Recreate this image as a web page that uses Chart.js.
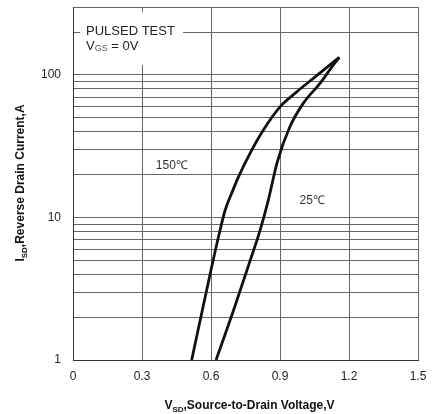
<!DOCTYPE html>
<html>
<head>
<meta charset="utf-8">
<script src="https://cdn.jsdelivr.net/npm/chart.js@4/dist/chart.umd.min.js"></script>
<style>
  html, body { margin: 0; padding: 0; background: #fff; }
  #wrap { width: 433px; height: 414px; }
</style>
</head>
<body>
<div id="wrap"><canvas id="diodeChart" width="433" height="414"></canvas></div>
<script>
// 数据
const voltage150 = [0.516, 0.596, 0.639, 0.661, 0.695, 0.719, 0.777, 0.827, 0.900, 0.973, 1.045, 1.117, 1.158];
const current150 = [1.0, 4.0, 8.1, 11.2, 15.5, 19.2, 29.7, 41, 59.8, 76.2, 94.8, 117.6, 133];
const voltage25 = [0.622, 0.697, 0.770, 0.813, 0.849, 0.888, 0.943, 1.001, 1.074, 1.132, 1.158];
const current25 = [1.0, 2.21, 4.97, 8.1, 13.2, 24.5, 43.3, 63.2, 87.4, 117.6, 133];
const xTicks = [0, 0.3, 0.6, 0.9, 1.2, 1.5];
const yTicks = [1, 2, 3, 4, 5, 6, 7, 8, 9, 10, 20, 30, 40, 50, 60, 70, 80, 90, 100, 200, 300];
const yLabels = [1, 10, 100];

const FONT = '"Liberation Sans", Arial, sans-serif';

function toPoints(xs, ys) {
    return xs.map((x, i) => ({x: x, y: ys[i]}));
}

// 标注与坐标轴标题（含下标）
const annotatePlugin = {
    id: 'annotate',
    beforeDatasetsDraw(chart) {
        const ctx = chart.ctx;
        const area = chart.chartArea;
        const xs = chart.scales.x;
        const ys = chart.scales.y;
        ctx.save();
        // PULSED TEST 标签背景
        ctx.fillStyle = '#fff';
        ctx.fillRect(area.left + 7, area.top + 5, 103, 53);
        ctx.fillStyle = '#222';
        ctx.textBaseline = 'middle';
        ctx.textAlign = 'left';
        ctx.font = '13px ' + FONT;
        ctx.fillText('PULSED TEST', area.left + 13, area.top + 24);
        ctx.fillText('V', area.left + 13, area.top + 39);
        let w = ctx.measureText('V').width;
        ctx.font = '9px ' + FONT;
        ctx.fillStyle = '#555';
        ctx.fillText('GS', area.left + 13 + w, area.top + 42);
        let w2 = ctx.measureText('GS').width;
        ctx.font = '13px ' + FONT;
        ctx.fillStyle = '#222';
        ctx.fillText(' = 0V', area.left + 13 + w + w2, area.top + 39);

        // 温度标签
        ctx.font = '12px ' + FONT;
        ctx.fillStyle = '#333';
        ctx.fillText('150\u2103', xs.getPixelForValue(0.36), ys.getPixelForValue(23.2));
        ctx.fillText('25\u2103', xs.getPixelForValue(0.985), ys.getPixelForValue(13.2));
        ctx.restore();
    },
    afterDraw(chart) {
        const ctx = chart.ctx;
        const area = chart.chartArea;
        ctx.save();
        ctx.fillStyle = '#111';
        ctx.textBaseline = 'alphabetic';

        // X 轴标题
        const big = 'bold 12px ' + FONT;
        const small = 'bold 8px ' + FONT;
        const xParts = [['V', big, 0], ['SD', small, 3], [',Source-to-Drain Voltage,V', big, 0]];
        drawParts(ctx, xParts, (area.left + area.right) / 2 + 4, 409);

        // Y 轴标题（旋转）
        ctx.translate(24, 183);
        ctx.rotate(-Math.PI / 2);
        const yParts = [['I', big, 0], ['SD', small, 3], [',Reverse Drain Current,A', big, 0]];
        drawParts(ctx, yParts, 0, 0);
        ctx.restore();
    }
};

function drawParts(ctx, parts, cx, baseY) {
    let total = 0;
    parts.forEach(p => { ctx.font = p[1]; total += ctx.measureText(p[0]).width; });
    let x = cx - total / 2;
    ctx.textAlign = 'left';
    parts.forEach(p => {
        ctx.font = p[1];
        ctx.fillText(p[0], x, baseY + p[2]);
        x += ctx.measureText(p[0]).width;
    });
}

const ctx = document.getElementById('diodeChart').getContext('2d');
new Chart(ctx, {
    type: 'line',
    data: {
        datasets: [
            {
                label: '150℃',
                data: toPoints(voltage150, current150),
                borderColor: '#111',
                borderWidth: 2.8,
                pointRadius: 0,
                cubicInterpolationMode: 'monotone',
                fill: false
            },
            {
                label: '25℃',
                data: toPoints(voltage25, current25),
                borderColor: '#111',
                borderWidth: 2.8,
                pointRadius: 0,
                cubicInterpolationMode: 'monotone',
                fill: false
            }
        ]
    },
    options: {
        responsive: false,
        animation: false,
        events: [],
        layout: {
            padding: {left: 0, right: 15, top: 7, bottom: 0}
        },
        plugins: {
            legend: { display: false },
            tooltip: { enabled: false }
        },
        scales: {
            x: {
                type: 'linear',
                min: 0,
                max: 1.5,
                afterBuildTicks(scale) {
                    scale.ticks = xTicks.map(v => ({value: v}));
                },
                afterFit(scale) {
                    scale.height = 54;
                    scale.paddingLeft = 0;
                    scale.paddingRight = 0;
                },
                grid: {
                    color: '#666',
                    lineWidth: 1,
                    drawTicks: false
                },
                border: { color: '#333', width: 1 },
                ticks: {
                    padding: 9,
                    color: '#222',
                    font: { family: FONT, size: 12 },
                    callback: v => String(v)
                }
            },
            y: {
                type: 'logarithmic',
                min: 1,
                max: 300,
                afterBuildTicks(scale) {
                    scale.ticks = yTicks.map(v => ({value: v}));
                },
                afterFit(scale) {
                    scale.width = 73;
                    scale.paddingTop = 0;
                    scale.paddingBottom = 0;
                },
                grid: {
                    color: '#666',
                    lineWidth: 1,
                    drawTicks: false
                },
                border: { color: '#333', width: 1 },
                ticks: {
                    padding: 12,
                    autoSkip: false,
                    color: '#222',
                    font: { family: FONT, size: 12 },
                    callback: v => yLabels.includes(v) ? String(v) : ''
                }
            }
        }
    },
    plugins: [annotatePlugin]
});
</script>
</body>
</html>
